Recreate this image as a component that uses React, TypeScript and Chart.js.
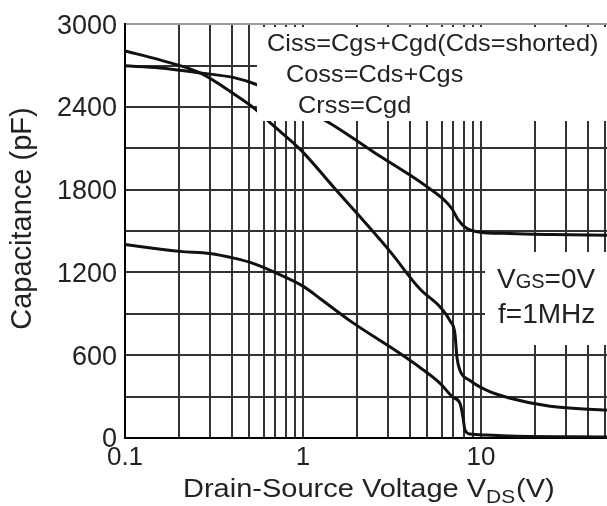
import React, { useEffect, useRef } from 'react';
import { Chart, registerables } from 'chart.js';

Chart.register(...registerables);

// ---- data ----
const cissV = [0.1, 0.157, 0.264, 0.415, 0.552, 1.0, 1.455, 2.5, 3.99, 5.17, 6.12, 6.87, 7.43, 8.34, 9.5, 14.6, 25, 51];
const cissC = [2698, 2683, 2647, 2611, 2561, 2390, 2273, 2072, 1906, 1806, 1734, 1662, 1583, 1518, 1496, 1482, 1475, 1470];

const cossV = [0.1, 0.157, 0.264, 0.415, 0.552, 0.67, 0.962, 1.5, 3.08, 4.54, 5.89, 6.7, 7.14, 7.33, 7.62, 8.67, 10.8, 14.6, 24.4, 51];
const cossC = [2806, 2741, 2647, 2489, 2374, 2273, 2094, 1812, 1353, 1080, 950, 849, 755, 583, 489, 417, 345, 288, 230, 201];

const crssV = [0.1, 0.204, 0.3, 0.415, 0.524, 0.714, 1.0, 1.25, 1.84, 3.51, 4.54, 5.89, 6.96, 7.62, 7.92, 8.13, 8.67, 10.8, 14.6, 51];
const crssC = [1403, 1353, 1338, 1302, 1266, 1194, 1101, 1010, 849, 612, 511, 396, 295, 252, 151, 58, 29, 22, 14, 7];

const xGridValues = [
  0.1, 0.2, 0.3, 0.4, 0.5, 0.6, 0.7, 0.8, 0.9,
  1, 2, 3, 4, 5, 6, 7, 8, 9,
  10, 20, 30, 40, 50, 60, 70, 80, 90, 100,
];
const xLabelValues = [0.1, 1, 10];
const xMin = 0.1;
const xMax = 100;
const yMin = 0;
const yMax = 3000;
const yGridStep = 300;
const yLabelStep = 600;

const legendLines = ['Ciss=Cgs+Cgd(Cds=shorted)', 'Coss=Cds+Cgs', 'Crss=Cgd'];
const yTitle = 'Capacitance (pF)';
const xTitleMain = 'Drain-Source Voltage V';
const xTitleSub = 'DS';
const xTitleEnd = '(V)';

const FONT = '"Liberation Sans", Arial, sans-serif';
const TEXT = '#222';
const CANVAS_W = 670;
const CANVAS_H = 506;

function drawText(ctx: CanvasRenderingContext2D, text: string, x: number, y: number, size: number, sx = 1, align: CanvasTextAlign = 'left') {
  ctx.save();
  ctx.font = `${size}px ${FONT}`;
  ctx.translate(x, y);
  ctx.scale(sx, 1);
  ctx.textAlign = align;
  ctx.textBaseline = 'alphabetic';
  ctx.fillText(text, 0, 0);
  const w = ctx.measureText(text).width * sx;
  ctx.restore();
  return w;
}

const annotations = {
  id: 'annotations',
  afterDatasetsDraw(chart: any) {
    const ctx: CanvasRenderingContext2D = chart.ctx;
    ctx.save();
    ctx.fillStyle = '#fff';
    ctx.fillRect(257, 27, chart.width - 257, 94);
    ctx.fillRect(485, 252, chart.width - 485, 93);
    ctx.fillStyle = TEXT;
    drawText(ctx, legendLines[0], 267, 51, 24, 1.055);
    drawText(ctx, legendLines[1], 286, 82, 24, 1.055);
    drawText(ctx, legendLines[2], 298, 112.5, 24, 1.055);
    let x = 497;
    x += drawText(ctx, 'V', x, 288, 28);
    x += drawText(ctx, 'GS', x, 288, 20);
    drawText(ctx, '=0V', x, 288, 28);
    drawText(ctx, 'f=1MHz', 498, 323, 28);
    ctx.restore();
  },
  afterDraw(chart: any) {
    const ctx: CanvasRenderingContext2D = chart.ctx;
    ctx.save();
    ctx.fillStyle = TEXT;
    // y title
    ctx.save();
    ctx.translate(31, 218.5);
    ctx.rotate(-Math.PI / 2);
    ctx.font = `29px ${FONT}`;
    ctx.textAlign = 'center';
    ctx.textBaseline = 'alphabetic';
    ctx.fillText(yTitle, 0, 0);
    ctx.restore();
    // x title
    let x = 183;
    x += drawText(ctx, xTitleMain, x, 497, 25, 1.16);
    x += drawText(ctx, xTitleSub, x, 503, 18, 1.16);
    drawText(ctx, xTitleEnd, x + 1, 497, 25, 1.16);
    ctx.restore();
  },
};

function toPoints(xs: number[], ys: number[]) {
  return xs.map((v, i) => ({ x: v, y: ys[i] }));
}

export default function App() {
  const ref = useRef<HTMLCanvasElement | null>(null);

  useEffect(() => {
    if (!ref.current) return;
    const lineStyle = {
      borderColor: '#111',
      borderWidth: 3,
      pointRadius: 0,
      fill: false,
      cubicInterpolationMode: 'monotone' as const,
    };
    const chart = new Chart(ref.current, {
      type: 'line',
      data: {
        datasets: [
          { label: 'Ciss', data: toPoints(cissV, cissC), ...lineStyle },
          { label: 'Coss', data: toPoints(cossV, cossC), ...lineStyle },
          { label: 'Crss', data: toPoints(crssV, crssC), ...lineStyle },
        ],
      },
      options: {
        responsive: false,
        animation: false,
        layout: { padding: { top: 20, right: CANVAS_W - 659, left: 0, bottom: 0 } },
        plugins: { legend: { display: false }, tooltip: { enabled: false } },
        scales: {
          x: {
            type: 'logarithmic',
            min: xMin,
            max: xMax,
            afterBuildTicks: (scale: any) => {
              scale.ticks = xGridValues.map((v) => ({ value: v }));
            },
            afterFit: (scale: any) => {
              scale.height = 68;
            },
            grid: { color: '#333', lineWidth: 2, drawTicks: false },
            border: { display: true, color: '#000', width: 2 },
            ticks: {
              autoSkip: false,
              maxRotation: 0,
              minRotation: 0,
              padding: 4,
              color: TEXT,
              font: { family: FONT, size: 26 },
              callback: (v: any) => (xLabelValues.includes(Number(v)) ? String(v) : ''),
            },
          },
          y: {
            type: 'linear',
            min: yMin,
            max: yMax,
            afterFit: (scale: any) => {
              scale.width = 125;
            },
            grid: {
              color: (c: any) => (c.tick && c.tick.value === yMax ? '#9a9a9a' : '#333'),
              lineWidth: 2,
              drawTicks: false,
            },
            border: { display: true, color: '#000', width: 2 },
            ticks: {
              stepSize: yGridStep,
              padding: 8,
              labelOffset: 2,
              color: TEXT,
              font: { family: FONT, size: 27 },
              callback: (v: any) => (Number(v) % yLabelStep === 0 ? String(v) : ''),
            },
          },
        },
      },
      plugins: [annotations],
    } as any);
    return () => chart.destroy();
  }, []);

  return (
    <div style={{ position: 'fixed', left: 0, top: 0, width: 607, height: 506, overflow: 'hidden', background: '#fff' }}>
      <canvas ref={ref} width={CANVAS_W} height={CANVAS_H} style={{ display: 'block', width: CANVAS_W, height: CANVAS_H }} />
    </div>
  );
}
